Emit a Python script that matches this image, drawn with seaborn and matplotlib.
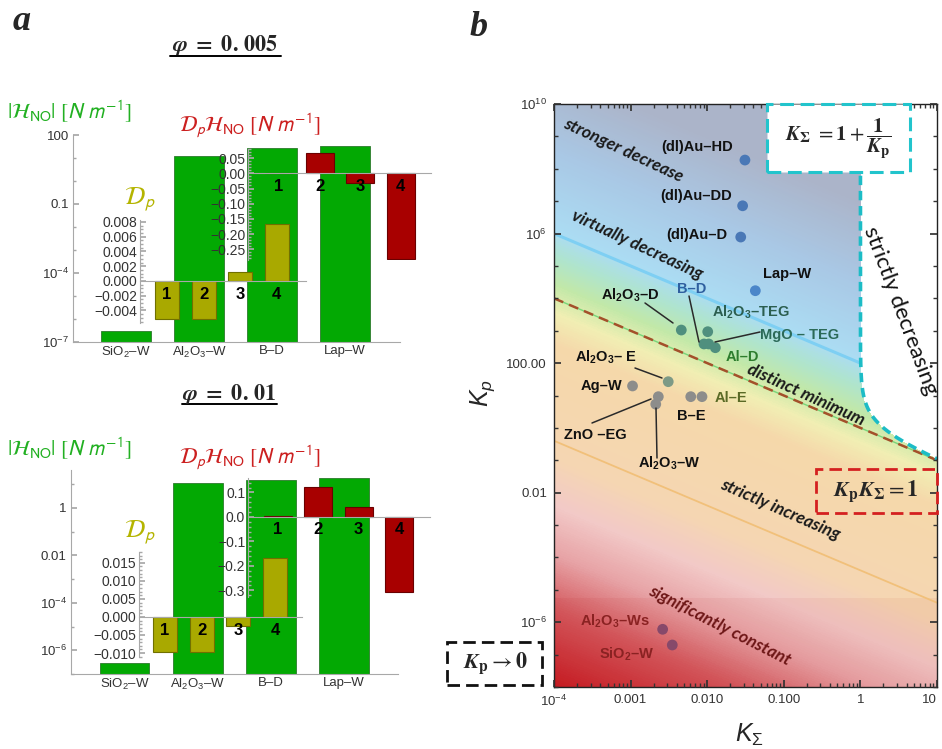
import numpy as np
import matplotlib
matplotlib.use('Agg')
import matplotlib.pyplot as plt
import matplotlib.ticker as mticker
from matplotlib.colors import LinearSegmentedColormap
from matplotlib.patches import Rectangle
from matplotlib.lines import Line2D
import seaborn as sns
import pandas as pd

sns.set_theme(style='white')
plt.rcParams['font.family'] = ['Liberation Sans', 'DejaVu Sans']
plt.rcParams['mathtext.fontset'] = 'custom'
plt.rcParams['mathtext.rm'] = 'Liberation Sans'
plt.rcParams['mathtext.it'] = 'Liberation Sans:italic'
plt.rcParams['mathtext.bf'] = 'Liberation Sans:bold'
plt.rcParams['axes.unicode_minus'] = True

W, H = 942, 749

# ---------------- panel a data ----------------
categories = ['SiO$_2$–W', 'Al$_2$O$_3$–W', 'B–D', 'Lap–W']
bar_ids = ['1', '2', '3', '4']
hno_005 = [3.0e-7, 12.0, 27.0, 33.0]
dp_005 = [-0.00515, -0.00515, 0.0012, 0.0077]
dphno_005 = [0.001, 0.066, -0.033, -0.283]
hno_010 = [2.8e-7, 11.0, 15.0, 18.0]
dp_010 = [-0.0097, -0.0097, -0.0025, 0.0164]
dphno_010 = [0.003, 0.122, 0.040, -0.307]

hno_005_ticks = [1e2, 1e-1, 1e-4, 1e-7]
hno_005_labels = ['100', '0.1', '$10^{-4}$', '$10^{-7}$']
hno_010_ticks = [1.0, 1e-2, 1e-4, 1e-6]
hno_010_labels = ['1', '0.01', '$10^{-4}$', '$10^{-6}$']
dp_005_ticks = [-0.004, -0.002, 0.0, 0.002, 0.004, 0.006, 0.008]
dphno_005_ticks = [-0.25, -0.20, -0.15, -0.10, -0.05, 0.0, 0.05]
dp_010_ticks = [-0.010, -0.005, 0.0, 0.005, 0.010, 0.015]
dphno_010_ticks = [-0.3, -0.2, -0.1, 0.0, 0.1]

# ---------------- panel b data ----------------
materials = ['(dl)Au–HD', '(dl)Au–DD', '(dl)Au–D', 'Lap–W', r'$\mathbf{Al_2O_3}$–D',
             r'$\mathbf{Al_2O_3}$–TEG', 'B–D', 'MgO – TEG', 'Al–D', r'$\mathbf{Al_2O_3}$– E',
             'Ag–W', 'ZnO –EG', r'$\mathbf{Al_2O_3}$–W', 'B–E', 'Al–E',
             r'$\mathbf{Al_2O_3}$–Ws', r'$\mathbf{SiO_2}$–W']
k_sigma = [0.0311, 0.0290, 0.0274, 0.0425, 0.00459, 0.01016, 0.00908, 0.01047, 0.01277,
           0.0031, 0.00106, 0.0023, 0.00213, 0.0061, 0.00855, 0.00262, 0.0035]
k_p = [1.86e8, 7.2e6, 7.8e5, 1.72e4, 1050, 933, 390, 390, 299,
       26.7, 19.7, 9.2, 5.4, 9.2, 9.2, 6.05e-7, 1.98e-7]
group = ['au', 'au', 'au', 'lap', 'teal', 'teal', 'teal', 'teal', 'teal',
         'sage', 'gray', 'gray', 'gray', 'gray', 'gray', 'mauve', 'mauve']
palette = {'au': '#4a78b6', 'lap': '#4b86c9', 'teal': '#4f8f7e', 'sage': '#7d9a86',
           'gray': '#8d8d8b', 'mauve': '#87496a'}

# boundary constants (K_p * K_Sigma = const)
virtually_const = 100.0
minimum_const = 1.0
increasing_const = 4e-5

xtick_vals = [1e-4, 1e-3, 1e-2, 1e-1, 1, 10]
xtick_labels = ['$10^{-4}$', '0.001', '0.010', '0.100', '1', '10']
ytick_vals = [1e10, 1e6, 1e2, 1e-2, 1e-6]
ytick_labels = ['$10^{10}$', '$10^{6}$', '100.00', '0.01', '$10^{-6}$']

GREEN, GREEN_E = '#03a903', '#2d7a2d'
OLIVE, OLIVE_E = '#a9a900', '#707000'
RED, RED_E = '#a80000', '#6a0000'
TICKC = '#333333'
SPC = '#a8a8a8'

fig = plt.figure(figsize=(W / 100, H / 100), dpi=100)


def px_axes(l, t, r, b):
    return fig.add_axes([l / W, 1 - b / H, (r - l) / W, (b - t) / H])


def fx(x):
    return x / W


def fy(y):
    return 1 - y / H


def main_bars(box, values, ylim, ticks, labels, xlim):
    ax = px_axes(*box)
    ax.set_facecolor('none')
    df = pd.DataFrame({'cat': categories, 'val': values})
    sns.barplot(data=df, x='cat', y='val', color=GREEN, saturation=1, width=0.68,
                edgecolor=GREEN_E, linewidth=0.6, ax=ax)
    ax.set_yscale('log')
    ax.set_ylim(*ylim)
    ax.set_xlim(*xlim)
    ax.set_xlabel('')
    ax.set_ylabel('')
    ax.set_yticks(ticks)
    ax.set_yticklabels(labels)
    lo, hi = np.floor(np.log10(ylim[0])), np.floor(np.log10(ylim[1]))
    ax.yaxis.set_minor_locator(mticker.FixedLocator(10.0 ** np.arange(lo, hi + 1)))
    ax.yaxis.set_minor_formatter(mticker.NullFormatter())
    for s in ['top', 'right']:
        ax.spines[s].set_visible(False)
    for s in ['left', 'bottom']:
        ax.spines[s].set_color(SPC)
        ax.spines[s].set_linewidth(0.8)
    ax.tick_params(axis='y', which='major', direction='in', length=4, color=SPC,
                   labelsize=9.5, labelcolor=TICKC, pad=3, left=True)
    ax.tick_params(axis='y', which='minor', direction='in', length=2.5, color=SPC, left=True)
    ax.tick_params(axis='x', length=0, labelsize=9.5, labelcolor=TICKC, pad=2)
    return ax


def inset_bars(box, values, color, edge, ylim, xlim, width, ticks, dec, minor):
    ax = px_axes(*box)
    ax.set_facecolor('none')
    df = pd.DataFrame({'id': bar_ids, 'val': values})
    sns.barplot(data=df, x='id', y='val', color=color, saturation=1, width=width,
                edgecolor=edge, linewidth=0.8, ax=ax)
    ax.set_axisbelow(False)
    ax.set_ylim(*ylim)
    ax.set_xlim(*xlim)
    ax.set_xlabel('')
    ax.set_ylabel('')
    for s in ['top', 'right']:
        ax.spines[s].set_visible(False)
    ax.spines['bottom'].set_position(('data', 0))
    for s in ['left', 'bottom']:
        ax.spines[s].set_color(SPC)
        ax.spines[s].set_linewidth(0.8)
    ax.set_yticks(ticks)
    ax.yaxis.set_major_formatter(mticker.FuncFormatter(
        lambda v, p: f'{v:.{dec}f}'.replace('-', '−')))
    ax.yaxis.set_minor_locator(mticker.MultipleLocator(minor))
    ax.tick_params(axis='y', which='major', direction='in', length=4, color=SPC,
                   labelsize=10, labelcolor=TICKC, pad=2, left=True)
    ax.tick_params(axis='y', which='minor', direction='in', length=2, color=SPC, left=True)
    ax.tick_params(axis='x', length=0, labelsize=12, labelcolor='black', pad=4)
    for lab in ax.get_xticklabels():
        lab.set_fontweight('bold')
    return ax


# ---------- panel a, phi = 0.005 ----------
main_bars((73, 135, 400, 342), hno_005, (1e-7, 1e2), hno_005_ticks, hno_005_labels,
          (-0.726, 3.75))
inset_bars((248, 149, 431, 260), dphno_005, RED, RED_E, (-0.285, 0.08), (-0.765, 3.75),
           0.69, dphno_005_ticks, 2, 0.01)
inset_bars((140, 220, 306, 323), dp_005, OLIVE, OLIVE_E, (-0.0057, 0.00827), (-0.74, 3.8),
           0.66, dp_005_ticks, 3, 0.0005)

# ---------- panel a, phi = 0.01 ----------
main_bars((71, 470, 398, 674), hno_010, (1e-7, 10 ** 1.6), hno_010_ticks, hno_010_labels,
          (-0.733, 3.74))
inset_bars((248, 478, 430, 597), dphno_010, RED, RED_E, (-0.327, 0.159), (-0.745, 3.77),
           0.69, dphno_010_ticks, 1, 0.02)
inset_bars((139, 552, 302, 657), dp_010, OLIVE, OLIVE_E, (-0.0111, 0.018), (-0.71, 3.74),
           0.66, dp_010_ticks, 3, 0.001)

# axis labels panel a
for ytop, yred, ydp in [(112, 126, 199), (449, 458, 532)]:
    fig.text(fx(7), fy(ytop), r'$|\mathcal{H}_{\mathrm{NO}}|\ [N\ m^{-1}]$', color='#22b022',
             fontsize=15.5, ha='left', va='center', math_fontfamily='stixsans')
    fig.text(fx(179), fy(yred), r'$\mathcal{D}_p\mathcal{H}_{\mathrm{NO}}\ [N\ m^{-1}]$',
             color='#cc2020', fontsize=15.5, ha='left', va='center', math_fontfamily='stixsans')
    fig.text(fx(124), fy(ydp), r'$\mathcal{D}_p$', color='#b4b400', fontsize=18,
             ha='left', va='center', math_fontfamily='stixsans')

# titles
for txt, xc, yc, x0, x1, yl in [(r'$\mathbfit{\varphi}\ \mathbf{=\ 0.\,005}$', 225, 45, 170, 281, 56),
                                (r'$\mathbfit{\varphi}\ \mathbf{=\ 0.\,01}$', 229, 394, 182, 277, 404)]:
    fig.text(fx(xc), fy(yc), txt, ha='center', va='center', fontsize=16, math_fontfamily='stix')
    fig.add_artist(Line2D([fx(x0), fx(x1)], [fy(yl), fy(yl)], color='black', lw=1.4))

fig.text(fx(22), fy(22), 'a', fontfamily='Liberation Serif', fontweight='bold',
         fontstyle='italic', fontsize=26, ha='center', va='center')
fig.text(fx(479), fy(28), 'b', fontfamily='Liberation Serif', fontweight='bold',
         fontstyle='italic', fontsize=26, ha='center', va='center')

# ---------- panel b ----------
axb = px_axes(554, 104, 937, 687)
axb.set_xscale('log')
axb.set_yscale('log')
axb.set_facecolor('white')

stops = [(-12, '#c71d24'), (-9.6, '#d45a5f'), (-7.9, '#e7a3a6'), (-6.4, '#f2c9c7'),
         (-4.9, '#f5d6b2'), (-1.4, '#f5d8aa'), (-0.45, '#f1eeb3'), (0.45, '#c2e8a8'),
         (1.3, '#afe4cd'), (2.1, '#abdcf3'), (4.5, '#a9c8e5'), (7.0, '#abb4c9')]
umin, umax = stops[0][0], stops[-1][0]
cmap = LinearSegmentedColormap.from_list(
    'regime', [((u - umin) / (umax - umin), c) for u, c in stops])
lk = np.linspace(-4, 1, 500)
lp = np.linspace(-8, 10, 900)
LK, LP = np.meshgrid(lk, lp)
KS, KP = 10 ** LK, 10 ** LP
U = LK + LP
with np.errstate(divide='ignore'):
    white = (KS > 1) & (KP > 1.0 / (KS - 1.0))
axb.pcolormesh(KS, KP, np.ma.masked_where(white, U), cmap=cmap, vmin=umin, vmax=umax,
               shading='auto', rasterized=True, zorder=0)
axb.axhspan(1e-8, 10 ** -5.25, xmin=0, xmax=1, color='#b00000', alpha=0.05, lw=0, zorder=0.5)

xs = np.logspace(-4, 0, 50)
axb.plot(xs, virtually_const / xs, color='#7ecff3', lw=2.2, zorder=2)
xs = np.logspace(-4, 1, 50)
axb.plot(xs, minimum_const / xs, color='#79d679', lw=1.0, zorder=2)
axb.plot(xs, minimum_const / xs, color='#a4502a', lw=1.8, ls=(0, (4, 2.5)), zorder=2.1)
axb.plot(xs, increasing_const / xs, color='#f1c07a', lw=1.3, zorder=2)
ks = 1 + 10 ** np.linspace(-12, np.log10(9), 600)
axb.plot(ks, 1.0 / (ks - 1.0), color='#1cbcc6', lw=2.6, ls=(0, (2.6, 1.6)), zorder=2.2)

dfb = pd.DataFrame({'k_sigma': k_sigma, 'k_p': k_p, 'group': group})
sns.scatterplot(data=dfb, x='k_sigma', y='k_p', hue='group', palette=palette, s=60,
                edgecolor='none', legend=False, ax=axb, zorder=6)
axb.set_xlim(1e-4, 10)
axb.set_ylim(1e-8, 1e10)
axb.set_xlabel('')
axb.set_ylabel('')
axb.set_xticks(xtick_vals)
axb.set_xticklabels(xtick_labels)
axb.get_xticklabels()[-1].set_horizontalalignment('right')
axb.set_yticks(ytick_vals)
axb.set_yticklabels(ytick_labels)
axb.xaxis.set_minor_locator(mticker.LogLocator(base=10, subs=np.arange(1, 10), numticks=40))
axb.xaxis.set_minor_formatter(mticker.NullFormatter())
axb.yaxis.set_minor_locator(mticker.FixedLocator(10.0 ** np.arange(-8, 11)))
axb.yaxis.set_minor_formatter(mticker.NullFormatter())
axb.set_axisbelow(False)
for s in axb.spines.values():
    s.set_color('#222222')
    s.set_linewidth(1.0)
axb.tick_params(which='major', direction='in', length=5, color='#333333', top=True,
                right=True, left=True, bottom=True, labelsize=9.5, labelcolor=TICKC, pad=5)
axb.tick_params(which='minor', direction='in', length=3, color='#333333', top=True,
                right=True, left=True, bottom=True)

# point labels (figure pixel positions) and leader lines
label_pos = [(697, 147), (696, 196), (697, 235), (787, 274), (630, 295), (751, 312),
             (692, 289), (800, 335), (742, 357), (606, 357), (601, 386), (595, 435),
             (669, 463), (691, 416), (731, 398), (615, 621), (627, 654)]
label_col = ['#111111'] * 4 + ['#111111', '#2b5e4f', '#2f5f9f', '#2b6a58', '#2e7d2e',
                                '#111111', '#111111', '#111111', '#111111', '#111111',
                                '#5a6a26', '#8a2222', '#8a2222']
for name, (x, y), c in zip(materials, label_pos, label_col):
    fig.text(fx(x), fy(y), name, ha='center', va='center', fontsize=10.5, fontweight='bold',
             color=c, zorder=7)
leaders = [((645, 303), (673, 323)), ((689, 296), (699, 342)), ((715, 342), (760, 332)),
           ((635, 368), (662, 378)), ((592, 423), (651, 399)), ((656, 408), (657, 458))]
for (x0, y0), (x1, y1) in leaders:
    fig.add_artist(Line2D([fx(x0), fx(x1)], [fy(y0), fy(y1)], color='#2a2a2a', lw=1.1))

# region annotations
reg = dict(fontfamily=['Lato', 'DejaVu Sans'], fontweight='bold', fontstyle='italic',
           ha='center', va='center', rotation_mode='anchor')
fig.text(fx(623), fy(150), 'stronger decrease', rotation=-25, fontsize=12.5, color='#1a1a1a', **reg)
fig.text(fx(637), fy(245), 'virtually decreasing', rotation=-25, fontsize=12.5, color='#1a1a1a', **reg)
fig.text(fx(806), fy(395), 'distinct minimum', rotation=-24.5, fontsize=12.5, color='#1a1a1a', **reg)
fig.text(fx(780), fy(510), 'strictly increasing', rotation=-23.7, fontsize=12.5, color='#1a1a1a', **reg)
fig.text(fx(720), fy(626), 'significantly constant', rotation=-27, fontsize=12.5, color='#6e1717', **reg)
fig.text(fx(900), fy(311), 'strictly decreasing', rotation=-69.5, fontsize=16,
         fontfamily=['Lato', 'DejaVu Sans'], color='#111111', ha='center', va='center',
         rotation_mode='anchor')

# formula boxes
fig.add_artist(Rectangle((fx(767), fy(172)), (910 - 767) / W, (172 - 104) / H,
                         transform=fig.transFigure, facecolor='white', edgecolor='#22c4cc',
                         lw=2.2, ls=(0, (4.5, 2.2)), zorder=8))
fig.text(fx(838), fy(139),
         r'$\mathbfit{K}_{\mathbf{\Sigma}}\ =\mathbf{1}+\dfrac{\mathbf{1}}{\mathbfit{K}_{\mathbf{p}}}$',
         math_fontfamily='stix', fontsize=15, ha='center', va='center', zorder=9)
fig.add_artist(Rectangle((fx(816), fy(513)), (937 - 816) / W, (513 - 469) / H,
                         transform=fig.transFigure, facecolor='none', edgecolor='#d42020',
                         lw=2.0, ls=(0, (4.5, 2.2)), zorder=8))
fig.text(fx(876), fy(491), r'$\mathbfit{K}_{\mathbf{p}}\mathbfit{K}_{\mathbf{\Sigma}}=\mathbf{1}$',
         math_fontfamily='stix', fontsize=16, ha='center', va='center', zorder=9)
fig.add_artist(Rectangle((fx(447), fy(685)), (542 - 447) / W, (685 - 642) / H,
                         transform=fig.transFigure, facecolor='none', edgecolor='#111111',
                         lw=2.0, ls=(0, (4.5, 2.2)), zorder=8))
fig.text(fx(495), fy(663), r'$\mathbfit{K}_{\mathbf{p}}\rightarrow\mathbf{0}$',
         math_fontfamily='stix', fontsize=16, ha='center', va='center', zorder=9)

# axis titles panel b
fig.text(fx(483), fy(393), r'$K_p$', rotation=90, fontsize=18, ha='center', va='center')
fig.text(fx(749), fy(735), r'$K_\Sigma$', fontsize=18, ha='center', va='center')

fig.savefig('out.png', dpi=100)
